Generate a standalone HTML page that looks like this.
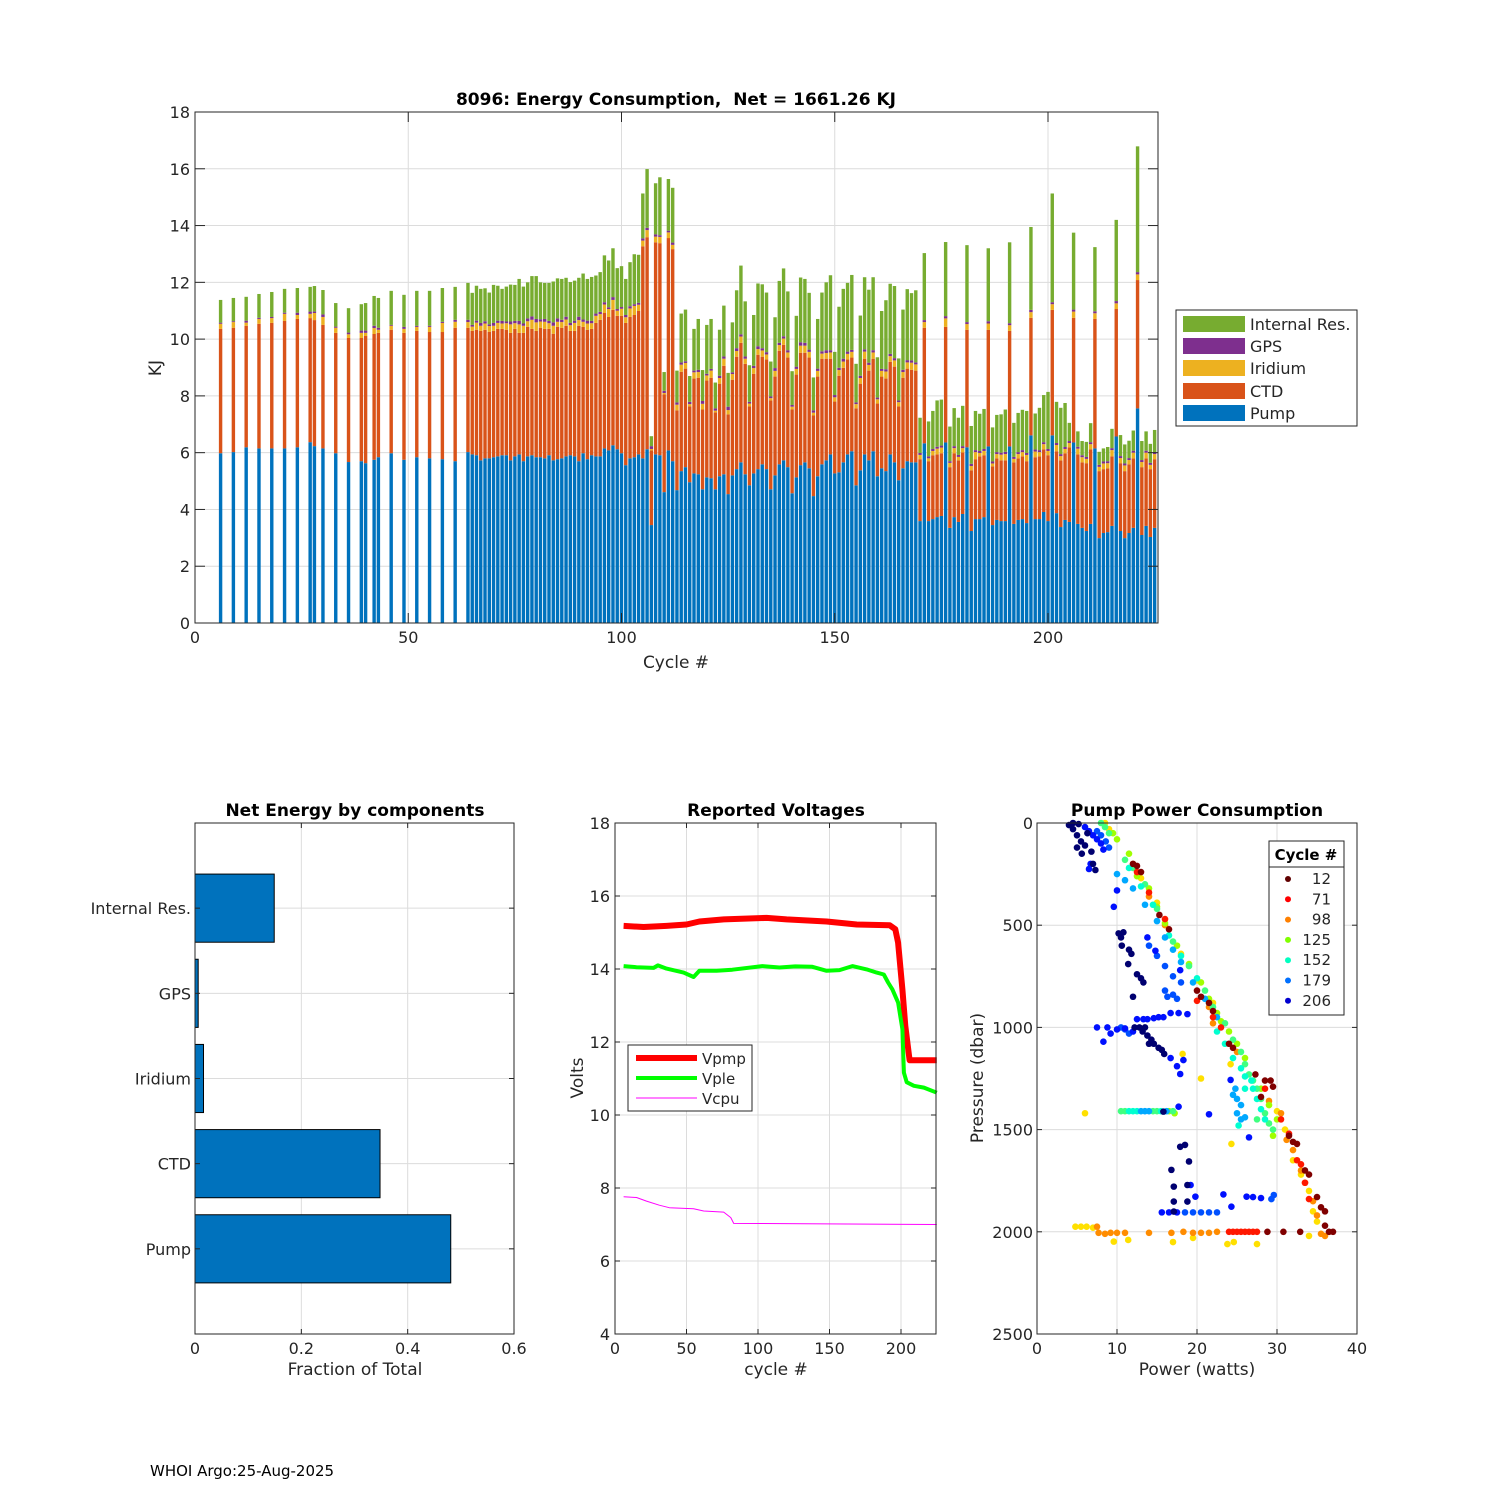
<!DOCTYPE html>
<html><head><meta charset="utf-8">
<style>
html,body{margin:0;padding:0;background:#fff;}
svg{display:block;}
text{font-family:"DejaVu Sans","Liberation Sans",sans-serif;fill:#262626;}
.tk{font-size:16px;}
.ttl{font-size:17px;font-weight:bold;fill:#000;white-space:pre;}
.lab{font-size:17px;}
</style></head>
<body>
<svg id="fig" xmlns="http://www.w3.org/2000/svg" width="1500" height="1500" viewBox="0 0 1500 1500">
<rect x="0" y="0" width="1500" height="1500" fill="#fff"/>
<g id="top">
 <rect x="195" y="112" width="963" height="511" fill="#fff"/>
 <g id="topGrid"></g>
 <g id="topBars"></g>
 <rect x="195" y="112" width="963" height="511" fill="none" stroke="#262626" stroke-width="1"/>
 <g id="topTicks"></g>
 <text class="ttl" x="676" y="105" text-anchor="middle" xml:space="preserve">8096: Energy Consumption,&#160; Net = 1661.26 KJ</text>
 <text class="lab" x="676" y="668" text-anchor="middle">Cycle #</text>
 <text class="lab" x="161" y="368" text-anchor="middle" transform="rotate(-90 161 368)">KJ</text>
 <g>
  <rect x="1176" y="310" width="181" height="116" fill="#fff" stroke="#262626"/>
  <rect x="1183" y="316" width="62" height="16" fill="#77AC30"/>
  <text class="tk" x="1250" y="330">Internal Res.</text>
  <rect x="1183" y="338" width="62" height="16" fill="#7E2F8E"/>
  <text class="tk" x="1250" y="352">GPS</text>
  <rect x="1183" y="360" width="62" height="16" fill="#EDB120"/>
  <text class="tk" x="1250" y="374">Iridium</text>
  <rect x="1183" y="383" width="62" height="16" fill="#D95319"/>
  <text class="tk" x="1250" y="397">CTD</text>
  <rect x="1183" y="405" width="62" height="16" fill="#0072BD"/>
  <text class="tk" x="1250" y="419">Pump</text>
 </g>
</g>

<g id="bl">
 <g id="blGrid"></g>
 <g id="blBars"></g>
 <rect x="195" y="823" width="319" height="511" fill="none" stroke="#262626"/>
 <g id="blTicks"></g>
 <text class="ttl" x="355" y="816" text-anchor="middle">Net Energy by components</text>
 <text class="lab" x="355" y="1375" text-anchor="middle">Fraction of Total</text>
</g>

<g id="bm">
 <g id="bmGrid"></g>
 <g id="bmLines"></g>
 <rect x="615" y="823" width="321" height="511" fill="none" stroke="#262626"/>
 <g id="bmTicks"></g>
 <text class="ttl" x="776" y="816" text-anchor="middle">Reported Voltages</text>
 <text class="lab" x="776" y="1375" text-anchor="middle">cycle #</text>
 <text class="lab" x="583" y="1078" text-anchor="middle" transform="rotate(-90 583 1078)">Volts</text>
 <g>
  <rect x="628" y="1045" width="124" height="66" fill="#fff" stroke="#262626"/>
  <line x1="636" y1="1058" x2="697" y2="1058" stroke="#ff0000" stroke-width="6"/>
  <text class="tk" x="702" y="1064" style="font-size:15px">Vpmp</text>
  <line x1="636" y1="1078" x2="697" y2="1078" stroke="#00ff00" stroke-width="4"/>
  <text class="tk" x="702" y="1084" style="font-size:15px">Vple</text>
  <line x1="636" y1="1098" x2="697" y2="1098" stroke="#ff00ff" stroke-width="1"/>
  <text class="tk" x="702" y="1104" style="font-size:15px">Vcpu</text>
 </g>
</g>

<g id="br">
 <g id="brGrid"></g>
 <g id="brPts"></g>
 <rect x="1037" y="823" width="320" height="511" fill="none" stroke="#262626"/>
 <g id="brTicks"></g>
 <text class="ttl" x="1197" y="816" text-anchor="middle">Pump Power Consumption</text>
 <text class="lab" x="1197" y="1375" text-anchor="middle">Power (watts)</text>
 <text class="lab" x="983" y="1078" text-anchor="middle" transform="rotate(-90 983 1078)">Pressure (dbar)</text>
 <g id="brLeg">
  <rect x="1269" y="841" width="75" height="174" fill="#fff" stroke="#262626"/>
  <line x1="1269" y1="867" x2="1344" y2="867" stroke="#262626"/>
  <text x="1306" y="860" text-anchor="middle" style="font-size:15px;font-weight:bold;fill:#000">Cycle #</text>
 </g>
</g>
<text x="150" y="1476" style="font-size:15px;fill:#000">WHOI Argo:25-Aug-2025</text>
</svg>
<script>
// ---------- Energy chart data ----------
const cycles = [6,9,12,15,18,21,24,27,28,30,33,36,39,40,42,43,46,49,52,55,58,61,
64,65,66,67,68,69,70,71,72,73,74,75,76,77,78,79,80,81,82,83,84,85,86,87,88,89,90,91,92,93,94,95,96,97,98,99,100,
101,102,103,104,105,106,107,108,109,110,111,112,113,114,115,116,117,118,119,120,121,122,123,124,125,126,127,128,129,130,
131,132,133,134,135,136,137,138,139,140,141,142,143,144,145,146,147,148,149,150,151,152,153,154,155,156,157,158,159,160,
161,162,163,164,165,166,167,168,169,170,171,172,173,174,175,176,177,178,179,180,181,182,183,184,185,186,187,188,189,190,
191,192,193,194,195,196,197,198,199,200,201,202,203,204,205,206,207,208,209,210,211,212,213,214,215,216,217,218,219,220,
221,222,223,224,225];
const pump = [5.98,6.02,6.19,6.15,6.15,6.15,6.19,6.37,6.23,6.15,5.98,5.67,5.70,5.63,5.75,5.84,5.98,5.75,5.84,5.80,5.77,5.70,
6.02,5.94,5.91,5.73,5.80,5.80,5.84,5.87,5.91,5.91,5.73,5.87,
5.94,5.70,5.87,5.91,5.84,5.84,5.80,5.91,5.73,5.77,5.80,5.87,5.91,5.87,5.70,5.98,5.77,5.91,5.87,5.87,
6.15,6.08,6.26,6.12,5.98,5.56,5.80,5.84,5.94,5.80,6.12,3.45,5.94,5.91,4.61,6.08,5.70,4.68,5.35,5.49,
4.96,5.27,5.24,4.71,5.13,5.10,4.71,5.17,5.24,4.54,5.20,5.42,5.66,5.24,4.85,5.27,5.42,5.59,5.42,4.71,
5.20,5.59,5.73,5.49,4.57,5.13,5.56,5.66,5.45,4.47,5.17,5.59,5.73,5.94,5.27,5.31,5.66,5.94,
6.05,4.85,5.38,5.94,5.73,6.05,5.17,5.45,5.35,5.94,5.66,5.03,5.45,5.70,5.66,5.66,3.59,6.33,3.59,3.66,
3.73,3.77,6.36,3.35,3.73,3.56,3.84,6.19,3.24,3.66,3.66,3.73,6.22,3.45,3.63,3.59,3.59,6.22,3.49,3.63,
3.66,3.52,6.61,3.66,3.66,3.91,3.59,6.61,3.87,3.38,3.63,3.56,6.36,3.49,3.35,3.24,3.49,6.15,2.99,3.17,
3.20,3.42,6.57,3.24,2.99,3.17,3.35,7.56,3.10,3.42,3.03,3.35];
const ctd = [4.38,4.38,4.28,4.39,4.42,4.49,4.52,4.37,4.44,4.35,4.24,4.37,4.34,4.48,4.43,4.38,4.35,4.47,4.45,4.45,4.48,4.70,
4.38,4.35,4.42,4.56,4.53,4.46,4.45,4.49,4.45,4.42,4.49,4.49,
4.28,4.52,4.56,4.45,4.45,4.56,4.56,4.45,4.46,4.66,4.60,4.60,4.38,4.42,4.77,4.45,4.56,4.45,4.70,4.81,
4.77,4.70,4.77,4.70,4.84,5.01,4.98,5.01,5.05,7.47,7.47,2.63,7.47,7.47,3.44,7.48,7.47,2.81,3.50,3.47,
2.67,3.34,3.40,2.81,3.41,3.54,2.71,3.26,3.82,2.81,3.37,3.96,4.21,3.89,2.78,3.51,4.03,3.79,3.86,3.13,
3.48,4.00,4.07,3.86,2.95,3.62,3.96,3.86,3.90,2.84,3.51,3.72,3.58,3.37,2.53,3.40,3.33,3.34,
3.30,2.71,3.05,3.37,3.16,3.26,2.56,3.23,3.26,3.26,3.37,2.60,3.19,3.26,3.26,3.23,2.18,4.07,2.11,2.25,
2.21,2.21,4.07,2.14,2.25,2.17,2.17,4.14,2.14,2.11,2.21,2.18,4.11,2.07,2.17,2.14,2.14,4.07,2.17,2.17,
2.21,2.18,4.14,2.18,2.21,2.21,2.32,4.42,2.18,2.35,2.35,2.63,4.39,2.45,2.31,2.39,2.63,4.56,2.36,2.25,
2.25,2.45,4.49,2.39,2.36,2.42,2.45,4.52,2.39,2.38,2.39,2.42];
const iridium = [0.18,0.20,0.11,0.17,0.17,0.25,0.14,0.15,0.25,0.28,0.18,0.13,0.18,0.11,0.21,0.11,0.14,0.14,0.14,0.18,0.32,0.21,
0.20,0.15,0.25,0.18,0.22,0.20,0.18,0.21,0.19,0.23,0.30,0.20,
0.30,0.25,0.20,0.32,0.30,0.22,0.25,0.20,0.28,0.18,0.20,0.22,0.20,0.28,0.20,0.18,0.22,0.20,0.25,0.20,
0.30,0.28,0.35,0.18,0.25,0.20,0.30,0.32,0.22,0.20,0.25,0.05,0.20,0.22,0.05,0.20,0.15,0.20,0.25,0.20,
0.08,0.22,0.20,0.20,0.18,0.25,0.06,0.20,0.25,0.15,0.20,0.20,0.22,0.18,0.10,0.20,0.20,0.22,0.18,0.08,
0.20,0.20,0.22,0.18,0.10,0.20,0.25,0.25,0.20,0.10,0.20,0.18,0.20,0.22,0.15,0.20,0.22,0.20,
0.20,0.15,0.20,0.25,0.20,0.22,0.15,0.20,0.25,0.20,0.22,0.15,0.20,0.22,0.25,0.22,0.15,0.20,0.10,0.15,
0.20,0.20,0.30,0.15,0.18,0.12,0.15,0.20,0.15,0.25,0.12,0.15,0.22,0.10,0.15,0.20,0.22,0.20,0.12,0.15,
0.15,0.22,0.20,0.20,0.15,0.18,0.15,0.20,0.22,0.15,0.15,0.15,0.22,0.20,0.18,0.15,0.18,0.20,0.15,0.20,
0.18,0.22,0.20,0.18,0.20,0.15,0.20,0.20,0.18,0.20,0.15,0.18];
const gps = [0.04,0.03,0.07,0.04,0.04,0.04,0.08,0.08,0.05,0.09,0.04,0.06,0.08,0.08,0.08,0.07,0.03,0.07,0.04,0.04,0.04,0.07,
0.08,0.06,0.07,0.10,0.08,0.06,0.10,0.08,0.09,0.06,0.10,0.08,
0.12,0.08,0.10,0.12,0.12,0.08,0.10,0.08,0.12,0.12,0.08,0.10,0.08,0.08,0.12,0.08,0.10,0.08,0.08,0.08,
0.08,0.06,0.10,0.06,0.06,0.08,0.08,0.06,0.07,0.08,0.08,0.10,0.08,0.06,0.08,0.06,0.08,0.08,0.08,0.06,
0.08,0.06,0.08,0.10,0.06,0.06,0.08,0.08,0.08,0.12,0.06,0.10,0.08,0.08,0.06,0.08,0.10,0.08,0.08,0.06,
0.10,0.08,0.08,0.08,0.06,0.08,0.12,0.10,0.08,0.08,0.08,0.08,0.10,0.08,0.08,0.08,0.10,0.08,
0.07,0.06,0.08,0.08,0.08,0.08,0.06,0.07,0.08,0.08,0.08,0.06,0.08,0.08,0.08,0.07,0.07,0.07,0.07,0.07,
0.07,0.07,0.08,0.06,0.07,0.07,0.07,0.07,0.08,0.07,0.07,0.07,0.08,0.07,0.07,0.07,0.08,0.07,0.07,0.07,
0.07,0.07,0.08,0.07,0.07,0.07,0.07,0.07,0.07,0.07,0.07,0.07,0.07,0.07,0.07,0.07,0.07,0.07,0.07,0.07,
0.07,0.07,0.08,0.07,0.07,0.07,0.07,0.08,0.07,0.07,0.07,0.07];
const internalRes = [0.80,0.82,0.84,0.84,0.88,0.84,0.87,0.87,0.90,0.86,0.83,0.86,0.93,0.97,1.05,1.05,1.20,1.13,1.23,1.23,1.19,1.16,
1.30,1.13,1.23,1.20,1.16,1.12,1.34,1.23,1.13,1.23,1.30,1.27,
1.48,1.30,1.27,1.42,1.51,1.30,1.27,1.34,1.44,1.41,1.44,1.37,1.44,1.41,1.37,1.62,1.47,1.55,1.34,1.40,
1.65,1.65,1.72,1.44,1.44,1.27,1.55,1.76,1.69,1.58,2.07,0.35,1.80,2.04,0.66,1.82,1.93,1.12,1.72,1.82,
0.91,1.47,1.79,1.09,1.72,1.76,0.91,1.62,1.79,1.19,1.76,2.04,2.42,1.94,1.29,1.79,2.21,2.25,2.10,1.23,
1.79,2.18,2.39,2.07,1.19,1.79,2.28,2.25,2.00,1.16,1.75,2.07,2.39,2.64,1.52,2.15,2.46,2.42,
2.64,1.36,2.12,2.54,2.57,2.57,1.42,2.04,2.43,2.47,2.54,1.48,2.12,2.50,2.37,2.54,1.24,2.36,1.23,1.34,
1.63,1.62,2.61,1.22,1.34,1.31,1.42,2.71,1.33,1.38,1.31,1.41,2.57,1.20,1.31,1.35,1.49,2.85,1.20,1.38,
1.42,1.48,2.92,1.27,1.49,1.66,2.01,3.83,1.45,1.63,1.55,0.64,2.71,0.54,0.50,0.53,0.67,2.26,0.46,0.46,
0.50,0.68,2.86,0.74,0.67,0.61,0.71,4.43,0.67,0.68,0.67,0.78];
const topXTicks = [0,50,100,150,200];
const topYTicks = [0,2,4,6,8,10,12,14,16,18];

// ---------- Net energy data ----------
const compNames = ["Pump","CTD","Iridium","GPS","Internal Res."];
const compFrac = [0.481,0.348,0.016,0.006,0.149];
const blXTicks = [0,0.2,0.4,0.6];

// ---------- Voltage data ----------
const vpmpCycle = [6,20,36,50,59,76,106,120,148,169,192,196,198,201,203,206,225];
const vpmp = [15.18,15.15,15.18,15.22,15.3,15.36,15.4,15.36,15.3,15.22,15.2,15.09,14.72,13.44,12.44,11.5,11.5];
const vpleCycle = [6,15,27,30,36,48,55,59,71,82,103,115,126,138,148,157,166,176,183,188,191,194,198,201,202,204,209,216,225];
const vple = [14.08,14.05,14.03,14.1,14.01,13.9,13.78,13.95,13.95,13.98,14.08,14.04,14.07,14.06,13.95,13.97,14.08,13.99,13.9,13.85,13.63,13.44,13.08,12.35,11.16,10.9,10.8,10.75,10.61];
const vcpuCycle = [6,15,22,31,38,55,62,76,81,83,225];
const vcpu = [7.76,7.74,7.64,7.53,7.46,7.43,7.37,7.34,7.19,7.03,7.0];
const bmXTicks = [0,50,100,150,200];
const bmYTicks = [4,6,8,10,12,14,16,18];

// ---------- Pump power data ([watts, dbar]) ----------
const ptsNavy = [[4,10],[4.5,30],[5,60],[5.5,90],[6,110],[6.3,50],[5,120],[5.6,150],[6.8,140],[7,200],[7.3,230],[10.2,540],[10.5,560],[10.8,535],[10.6,600],[11.5,620],[11.8,640],[11.4,690],[12.5,740],[13,760],[13.3,780],[12,850],[12.8,1000],[13.2,1020],[13.8,1040],[14.3,1060],[14.6,1080],[15.2,1100],[15.6,1110],[15.9,1130],[17.9,1584],[18.5,1575],[19,1656],[16.8,1697],[17.1,1779],[18.8,1771],[17.1,1852],[18.8,1852],[17.1,1901],[15.8,1412],[4.5,0],[5.2,5],[13.5,1000],[14,1080],[12.2,1000]];
const ptsBlue = [[6.7,200],[6.5,225],[9.6,410],[10,330],[12.5,960],[13.3,960],[13.8,960],[14.6,955],[15.2,950],[15.8,950],[16.7,930],[17.7,930],[18.8,935],[7.5,1000],[8.8,1000],[9.2,1030],[10,1010],[11,1005],[12,1020],[8.3,1070],[13.8,560],[14.8,625],[17.9,720],[16.7,1150],[18.3,1160],[17.5,1190],[15.6,1905],[16.5,1905],[17.5,1905],[19.2,1771],[19.8,1828],[23.3,1817],[26.2,1828],[27,1830],[28,1835],[24.3,1877],[26.5,1538],[24.2,1257],[21.5,1425],[17.9,1228],[17.7,1388],[6,20],[6.5,40],[7,60],[7.5,80],[8,100],[8.3,130]];
const ptsRoyal = [[18.5,1905],[19.5,1905],[20.5,1905],[21.5,1905],[22.5,1905],[29.6,1820],[29.3,1840],[16,820],[16.3,850],[17,840],[17.5,860],[14,600],[15,650],[16,700],[17,750],[18,780],[10.5,1000],[11,1010],[11.5,1030],[7.5,40],[8,60],[8.6,90],[9,120]];
const ptsSky = [[24.5,1330],[25,1350],[25.5,1380],[24.8,1300],[25,1420],[25.5,1450],[26,1440],[13,1410],[13.5,1410],[14,1410],[16.2,1410],[10,250],[11,280],[12,320],[13.5,400],[15,480],[16,560],[17,620],[18,680],[19.5,780],[21,860],[22.5,950]];
const ptsCyan = [[12,1410],[12.5,1410],[11.5,1410],[15.5,1410],[25.2,1480],[26,1300],[26.8,1260],[11.5,220],[13,310],[14.5,400],[16.5,550],[18,650],[20,760],[21.5,880],[22.5,1020],[23.5,1080],[24.5,1150],[25.5,1200],[26,1240],[27,1300],[27.5,1350],[28,1400],[28.5,1450]];
const ptsGreen = [[10.5,1410],[11,1410],[14.5,1410],[15,1410],[17,1410],[8,0],[8.5,20],[9,50],[11,180],[12,220],[13.5,300],[15,420],[17,580],[19,700],[21,820],[22,900],[23.5,980],[24.5,1060],[25.5,1120],[26,1180],[26.5,1230],[27,1260],[27.5,1300],[28,1350],[28.5,1420],[29,1470],[29.5,1500],[27.5,1450]];
const ptsLime = [[9.5,50],[10,80],[11.5,150],[12.5,260],[14,320],[15,410],[16,490],[17.5,600],[19,690],[20.5,780],[21.5,860],[22.5,930],[23,970],[24,1020],[25,1080],[26,1150],[28,1300],[29,1380],[16.5,1410],[17.2,1420],[29.5,1530],[30,1450]];
const ptsYellow = [[6,1420],[4.8,1975],[5.5,1975],[6.2,1975],[7,1980],[9.6,2048],[11.4,2040],[17,2050],[19.5,2030],[23.8,2060],[24.6,2050],[27.5,2060],[24.2,1180],[24.3,1570],[20.5,1250],[18.2,1130],[30,1410],[31,1500],[32,1650],[33,1720],[34,1800],[34.5,1900],[35,1950],[34,2020],[13,270],[15,390],[18,640],[20,770],[22,880],[8.5,0],[9,30]];
const ptsOrange = [[7.7,2005],[8.5,2010],[9.2,2005],[10,2005],[11,2005],[14,2005],[16.8,2005],[18.3,2000],[19.5,2005],[20.5,2005],[21.5,2005],[22.5,2000],[7.5,1975],[30.5,1420],[31.2,1550],[32,1600],[33,1700],[33.5,1760],[34.5,1850],[35,1920],[35.5,2010],[36,2020],[12,200],[14,360],[16,500],[21.5,900],[22,980],[25,1120],[29,1360]];
const ptsRed = [[24,2000],[24.5,2000],[25,2000],[25.5,2000],[26,2000],[26.5,2000],[27,2000],[27.5,2000],[30.5,1450],[31.5,1520],[32.5,1650],[33,1670],[33.5,1760],[34,1840],[12.5,240],[14,340],[16,470],[20,870],[22,950],[23,1000],[28.5,1300]];
const ptsDarkRed = [[28.8,2000],[30.8,2000],[32.9,2000],[36.5,2000],[37,2000],[27.3,1230],[28.5,1260],[29.5,1290],[31.5,1530],[32,1560],[32.5,1570],[33.5,1700],[34,1720],[35,1830],[35.5,1880],[36,1900],[36,1970],[12,200],[12.5,210],[13,240],[15.3,450],[16.5,520],[20,820],[20.5,850],[21.5,880],[22,920],[24,1080],[24.5,1100],[28,1340],[29.2,1260]];
const legendCycles = ["12","71","98","125","152","179","206"];
const brXTicks = [0,10,20,30,40];
const brYTicks = [0,500,1000,1500,2000,2500];

const NS = "http://www.w3.org/2000/svg";
function mk(tag, attrs, parent){ const e=document.createElementNS(NS,tag); for(const k in attrs) e.setAttribute(k,attrs[k]); parent.appendChild(e); return e; }
const GRID="#dcdcdc", AX="#262626";

// ===== top chart =====
const tx = c => 195 + c*4.265;
const ty = v => 623 - v*(511/18);
const tg = document.getElementById('topGrid'), tt = document.getElementById('topTicks'), tb = document.getElementById('topBars');
topXTicks.forEach(v=>{
  if(v>0){ const l=mk('line',{x1:tx(v),x2:tx(v),y1:112,y2:623,stroke:GRID},tg);
    }
  const m=mk('line',{x1:tx(v),x2:tx(v),y1:623,y2:613,stroke:AX},tt);
   
  const m2=mk('line',{x1:tx(v),x2:tx(v),y1:112,y2:122,stroke:AX},tt);
   
  const t=mk('text',{x:tx(v),y:643,'text-anchor':'middle','class':'tk'},tt); t.textContent=v;
   
});
topYTicks.forEach(v=>{
  if(v>0&&v<18){ const l=mk('line',{x1:195,x2:1158,y1:ty(v),y2:ty(v),stroke:GRID},tg);
    }
  const m=mk('line',{x1:195,x2:205,y1:ty(v),y2:ty(v),stroke:AX},tt);
   
  const m2=mk('line',{x1:1148,x2:1158,y1:ty(v),y2:ty(v),stroke:AX},tt);
   
  const t=mk('text',{x:190,y:ty(v)+6,'text-anchor':'end','class':'tk'},tt); t.textContent=v;
   
});
const series = [[pump,'#0072BD','bar-pump'],[ctd,'#D95319','bar-ctd'],[iridium,'#EDB120','bar-iridium'],[gps,'#7E2F8E','bar-gps'],[internalRes,'#77AC30','bar-internal']];
const bw = 0.8*4.265;
cycles.forEach((c,i)=>{
  let base=0;
  series.forEach(s=>{
    const v=s[0][i];
    const r=mk('rect',{x:tx(c)-bw/2,y:ty(base+v),width:bw,height:ty(base)-ty(base+v),fill:s[1]},tb);
    
    
    base+=v;
  });
});

// ===== net energy barh =====
const bx = f => 195 + f*531.7;
const by = k => 1334 - k*85.17;
const blg=document.getElementById('blGrid'), blt=document.getElementById('blTicks'), blb=document.getElementById('blBars');
blXTicks.forEach(v=>{
  if(v>0&&v<0.6){ const l=mk('line',{x1:bx(v),x2:bx(v),y1:823,y2:1334,stroke:GRID},blg);
    }
  const m=mk('line',{x1:bx(v),x2:bx(v),y1:1334,y2:1329,stroke:AX},blt);
   
  const m2=mk('line',{x1:bx(v),x2:bx(v),y1:823,y2:828,stroke:AX},blt);
   
  const t=mk('text',{x:bx(v),y:1354,'text-anchor':'middle','class':'tk'},blt); t.textContent=v;
   
});
compNames.forEach((n,i)=>{
  const k=i+1;
  const l=mk('line',{x1:195,x2:514,y1:by(k),y2:by(k),stroke:GRID},blg);
   
  const m=mk('line',{x1:195,x2:200,y1:by(k),y2:by(k),stroke:AX},blt);
   
  const m2=mk('line',{x1:509,x2:514,y1:by(k),y2:by(k),stroke:AX},blt);
   
  const t=mk('text',{x:191,y:by(k)+6,'text-anchor':'end','class':'tk'},blt); t.textContent=n;
   
  const r=mk('rect',{x:195,y:by(k)-0.4*85.17,width:bx(compFrac[i])-195,height:0.8*85.17,fill:'#0072BD',stroke:'#000','stroke-width':1},blb);
  
  
});

// ===== voltages =====
const vx = c => 615 + c*1.43;
const vy = v => 1334 - (v-4)*36.5;
const bmg=document.getElementById('bmGrid'), bmt=document.getElementById('bmTicks'), bml=document.getElementById('bmLines');
bmXTicks.forEach(v=>{
  if(v>0){ const l=mk('line',{x1:vx(v),x2:vx(v),y1:823,y2:1334,stroke:GRID},bmg);
    }
  const m=mk('line',{x1:vx(v),x2:vx(v),y1:1334,y2:1329,stroke:AX},bmt);
   
  const m2=mk('line',{x1:vx(v),x2:vx(v),y1:823,y2:828,stroke:AX},bmt);
   
  const t=mk('text',{x:vx(v),y:1354,'text-anchor':'middle','class':'tk'},bmt); t.textContent=v;
   
});
bmYTicks.forEach(v=>{
  if(v>4&&v<18){ const l=mk('line',{x1:615,x2:936,y1:vy(v),y2:vy(v),stroke:GRID},bmg);
    }
  const m=mk('line',{x1:615,x2:620,y1:vy(v),y2:vy(v),stroke:AX},bmt);
   
  const m2=mk('line',{x1:931,x2:936,y1:vy(v),y2:vy(v),stroke:AX},bmt);
   
  const t=mk('text',{x:610,y:vy(v)+6,'text-anchor':'end','class':'tk'},bmt); t.textContent=v;
   
});
function vline(cs, vs, color, w, name){
  const d = cs.map((c,i)=>(i?'L':'M')+vx(c).toFixed(1)+' '+vy(vs[i]).toFixed(1)).join(' ');
  const p=mk('path',{d:d,fill:'none',stroke:color,'stroke-width':w,'stroke-linejoin':'round'},bml);
  
  
}
vline(vpmpCycle, vpmp, '#ff0000', 6, 'vpmp-line');
vline(vpleCycle, vple, '#00ff00', 4, 'vple-line');
vline(vcpuCycle, vcpu, '#ff00ff', 1, 'vcpu-line');

// ===== pump power scatter =====
const px = w => 1037 + w*8;
const py = p => 823 + p*0.2044;
const brg=document.getElementById('brGrid'), brt=document.getElementById('brTicks'), brp=document.getElementById('brPts');
brXTicks.forEach(v=>{
  if(v>0&&v<40){ const l=mk('line',{x1:px(v),x2:px(v),y1:823,y2:1334,stroke:GRID},brg);
    }
  const m=mk('line',{x1:px(v),x2:px(v),y1:1334,y2:1329,stroke:AX},brt);
   
  const t=mk('text',{x:px(v),y:1354,'text-anchor':'middle','class':'tk'},brt); t.textContent=v;
   
});
brYTicks.forEach(v=>{
  if(v>0&&v<2500){ const l=mk('line',{x1:1037,x2:1357,y1:py(v),y2:py(v),stroke:GRID},brg);
    }
  const m=mk('line',{x1:1037,x2:1042,y1:py(v),y2:py(v),stroke:AX},brt);
   
  const m2=mk('line',{x1:1352,x2:1357,y1:py(v),y2:py(v),stroke:AX},brt);
   
  const t=mk('text',{x:1033,y:py(v)+6,'text-anchor':'end','class':'tk'},brt); t.textContent=v;
   
});
const groups = [[ptsYellow,'#ffe000'],[ptsOrange,'#ff8c00'],[ptsLime,'#a0ff00'],[ptsGreen,'#40ff80'],[ptsCyan,'#00ffd0'],[ptsSky,'#00a8ff'],[ptsRoyal,'#0050ff'],[ptsBlue,'#0010ff'],[ptsNavy,'#000070'],[ptsRed,'#ff1800'],[ptsDarkRed,'#800000']];
groups.forEach(g=>{
  g[0].forEach(pt=>{
    const c=mk('circle',{cx:px(pt[0]),cy:py(pt[1]),r:3.3,fill:g[1]},brp);
    
    
  });
});
const legColors = ['#600000','#ff0000','#ff8000','#80ff00','#00ffc0','#0070ff','#0000d0'];
const brLeg=document.getElementById('brLeg');
legendCycles.forEach((lab,i)=>{
  const y=879+i*20.3;
  const c=mk('circle',{cx:1288,cy:y,r:3,fill:legColors[i]},brLeg);
  
  
  const t=mk('text',{x:1331,y:y+5,'text-anchor':'end','class':'tk',style:'font-size:15px'},brLeg); t.textContent=lab;
  
  
});
</script>
</body></html>
